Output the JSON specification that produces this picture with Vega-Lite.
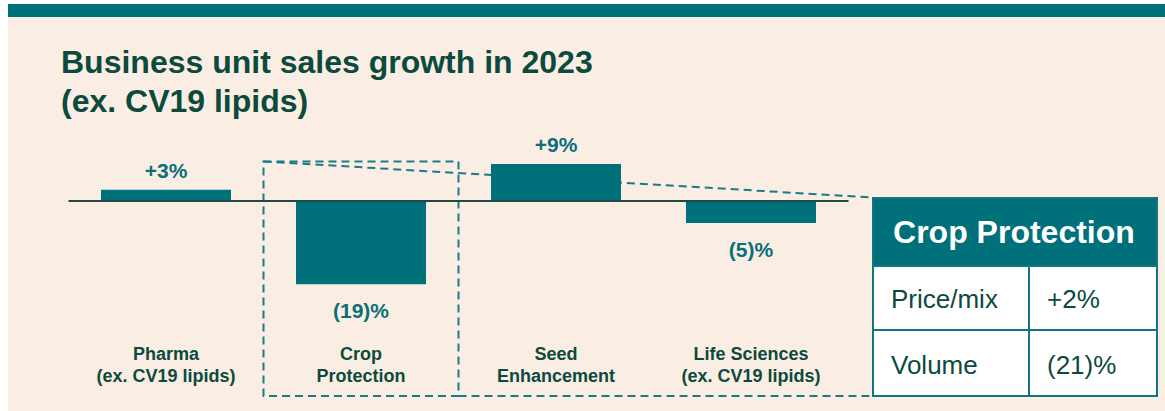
{
  "$schema": "https://vega.github.io/schema/vega-lite/v6.json",
  "width": 1165,
  "height": 411,
  "autosize": {"type": "fit", "contains": "padding"},
  "padding": 0,
  "background": "#ffffff",
  "config": {"view": {"stroke": null}, "font": "Liberation Sans", "text": {"font": "Liberation Sans"}},
  "datasets": {
    "units": [
      {"unit": "Pharma", "label": "Pharma\n(ex. CV19 lipids)", "growth": 2.6, "growth_label": "+3%"},
      {"unit": "Crop Protection", "label": "Crop\nProtection", "growth": -19.3, "growth_label": "(19)%"},
      {"unit": "Seed Enhancement", "label": "Seed\nEnhancement", "growth": 8.6, "growth_label": "+9%"},
      {"unit": "Life Sciences", "label": "Life Sciences\n(ex. CV19 lipids)", "growth": -5.1, "growth_label": "(5)%"}
    ],
    "crop_protection": [
      {"component": "Price/mix", "change": "+2%"},
      {"component": "Volume", "change": "(21)%"}
    ],
    "blank": [{}]
  },
  "layer": [
    {
      "data": {"name": "blank"},
      "layer": [
        {
          "mark": {"type": "rect", "color": "#faeee4"},
          "encoding": {
            "x": {"datum": 0.18975, "type": "quantitative", "axis": null, "scale": {"domain": [0.14872, 6.12308], "nice": false, "zero": false}},
            "x2": {"datum": 6.12308},
            "y": {"datum": 42.691, "type": "quantitative", "axis": null, "scale": {"domain": [-48.724, 46.636], "nice": false, "zero": false}},
            "y2": {"datum": -48.724}
          }
        },
        {
          "mark": {"type": "rect", "color": "#00717b"},
          "encoding": {
            "x": {"datum": 0.18975, "type": "quantitative", "axis": null, "scale": {"domain": [0.14872, 6.12308], "nice": false, "zero": false}},
            "x2": {"datum": 6.12308},
            "y": {"datum": 45.708, "type": "quantitative", "axis": null, "scale": {"domain": [-48.724, 46.636], "nice": false, "zero": false}},
            "y2": {"datum": 42.691}
          }
        },
        {
          "mark": {"type": "text", "align": "left", "baseline": "alphabetic", "fontSize": 32, "fontWeight": "bold", "color": "#0b4a3c", "lineHeight": 39},
          "encoding": {
            "x": {"datum": 0.46154, "type": "quantitative", "axis": null, "scale": {"domain": [0.14872, 6.12308], "nice": false, "zero": false}},
            "y": {"datum": 29.698, "type": "quantitative", "axis": null, "scale": {"domain": [-48.724, 46.636], "nice": false, "zero": false}},
            "text": {"value": ["Business unit sales growth in 2023", "(ex. CV19 lipids)"]}
          }
        },
        {
          "mark": {"type": "rect", "filled": false, "stroke": "#1a7b87", "strokeWidth": 2, "strokeDash": [8, 5]},
          "encoding": {
            "x": {"datum": 1.5, "type": "quantitative", "axis": null, "scale": {"domain": [0.14872, 6.12308], "nice": false, "zero": false}},
            "x2": {"datum": 2.5},
            "y": {"datum": 9.165, "type": "quantitative", "axis": null, "scale": {"domain": [-48.724, 46.636], "nice": false, "zero": false}},
            "y2": {"datum": -45.244}
          }
        },
        {
          "mark": {"type": "rule", "stroke": "#1a7b87", "strokeWidth": 2, "strokeDash": [8, 5]},
          "encoding": {
            "x": {"datum": 1.5, "type": "quantitative", "axis": null, "scale": {"domain": [0.14872, 6.12308], "nice": false, "zero": false}},
            "x2": {"datum": 4.62564},
            "y": {"datum": 9.165, "type": "quantitative", "axis": null, "scale": {"domain": [-48.724, 46.636], "nice": false, "zero": false}},
            "y2": {"datum": 0.812}
          }
        },
        {
          "mark": {"type": "rule", "stroke": "#1a7b87", "strokeWidth": 2, "strokeDash": [8, 5]},
          "encoding": {
            "x": {"datum": 2.5, "type": "quantitative", "axis": null, "scale": {"domain": [0.14872, 6.12308], "nice": false, "zero": false}},
            "x2": {"datum": 4.62564},
            "y": {"datum": -45.244, "type": "quantitative", "axis": null, "scale": {"domain": [-48.724, 46.636], "nice": false, "zero": false}},
            "y2": {"datum": -45.244}
          }
        }
      ]
    },
    {
      "data": {"name": "units"},
      "layer": [
        {
          "mark": {"type": "bar", "color": "#00707a", "width": {"band": 0.6667}},
          "encoding": {
            "x": {"field": "unit", "type": "nominal", "sort": null, "axis": null, "scale": {"type": "band", "domain": ["Pharma", "Crop Protection", "Seed Enhancement", "Life Sciences"], "paddingInner": 0, "paddingOuter": 0.9872, "align": 0.17792}},
            "y": {"field": "growth", "type": "quantitative", "axis": null, "scale": {"domain": [-48.724, 46.636], "nice": false, "zero": false}},
            "y2": {"datum": 0}
          }
        },
        {
          "transform": [{"filter": "datum.growth > 0"}],
          "mark": {"type": "text", "baseline": "alphabetic", "dy": -12, "fontSize": 21, "fontWeight": "bold", "color": "#0b6f79"},
          "encoding": {
            "x": {"field": "unit", "type": "nominal", "sort": null, "axis": null, "scale": {"type": "band", "domain": ["Pharma", "Crop Protection", "Seed Enhancement", "Life Sciences"], "paddingInner": 0, "paddingOuter": 0.9872, "align": 0.17792}},
            "y": {"field": "growth", "type": "quantitative", "axis": null, "scale": {"domain": [-48.724, 46.636], "nice": false, "zero": false}},
            "text": {"field": "growth_label"}
          }
        },
        {
          "transform": [{"filter": "datum.growth < 0"}],
          "mark": {"type": "text", "baseline": "top", "dy": 17, "fontSize": 21, "fontWeight": "bold", "color": "#0b6f79"},
          "encoding": {
            "x": {"field": "unit", "type": "nominal", "sort": null, "axis": null, "scale": {"type": "band", "domain": ["Pharma", "Crop Protection", "Seed Enhancement", "Life Sciences"], "paddingInner": 0, "paddingOuter": 0.9872, "align": 0.17792}},
            "y": {"field": "growth", "type": "quantitative", "axis": null, "scale": {"domain": [-48.724, 46.636], "nice": false, "zero": false}},
            "text": {"field": "growth_label"}
          }
        },
        {
          "mark": {"type": "text", "baseline": "alphabetic", "fontSize": 18, "fontWeight": "bold", "color": "#0b4a3c", "lineBreak": "\n", "lineHeight": 22},
          "encoding": {
            "x": {"field": "unit", "type": "nominal", "sort": null, "axis": null, "scale": {"type": "band", "domain": ["Pharma", "Crop Protection", "Seed Enhancement", "Life Sciences"], "paddingInner": 0, "paddingOuter": 0.9872, "align": 0.17792}},
            "y": {"datum": -36.891, "type": "quantitative", "axis": null, "scale": {"domain": [-48.724, 46.636], "nice": false, "zero": false}},
            "text": {"field": "label"}
          }
        }
      ]
    },
    {
      "data": {"name": "blank"},
      "layer": [
        {
          "mark": {"type": "rule", "stroke": "#1f4a41", "strokeWidth": 2},
          "encoding": {
            "x": {"datum": 0.5, "type": "quantitative", "axis": null, "scale": {"domain": [0.14872, 6.12308], "nice": false, "zero": false}},
            "x2": {"datum": 4.5},
            "y": {"datum": 0, "type": "quantitative", "axis": null, "scale": {"domain": [-48.724, 46.636], "nice": false, "zero": false}}
          }
        },
        {
          "mark": {"type": "rect", "fill": "#00707a", "stroke": "#137482", "strokeWidth": 2},
          "encoding": {
            "x": {"datum": 4.62564, "type": "quantitative", "axis": null, "scale": {"domain": [0.14872, 6.12308], "nice": false, "zero": false}},
            "x2": {"datum": 6.08205},
            "y": {"datum": 0.696, "type": "quantitative", "axis": null, "scale": {"domain": [-48.724, 46.636], "nice": false, "zero": false}},
            "y2": {"datum": -15.081}
          }
        },
        {
          "mark": {"type": "rect", "fill": "#ffffff", "stroke": "#137482", "strokeWidth": 2},
          "encoding": {
            "x": {"datum": 4.62564, "type": "quantitative", "axis": null, "scale": {"domain": [0.14872, 6.12308], "nice": false, "zero": false}},
            "x2": {"datum": 6.08205},
            "y": {"datum": -15.081, "type": "quantitative", "axis": null, "scale": {"domain": [-48.724, 46.636], "nice": false, "zero": false}},
            "y2": {"datum": -45.244}
          }
        },
        {
          "mark": {"type": "rule", "stroke": "#137482", "strokeWidth": 2},
          "encoding": {
            "x": {"datum": 4.62564, "type": "quantitative", "axis": null, "scale": {"domain": [0.14872, 6.12308], "nice": false, "zero": false}},
            "x2": {"datum": 6.08205},
            "y": {"datum": -29.93, "type": "quantitative", "axis": null, "scale": {"domain": [-48.724, 46.636], "nice": false, "zero": false}}
          }
        },
        {
          "mark": {"type": "rule", "stroke": "#137482", "strokeWidth": 2},
          "encoding": {
            "x": {"datum": 5.42564, "type": "quantitative", "axis": null, "scale": {"domain": [0.14872, 6.12308], "nice": false, "zero": false}},
            "y": {"datum": -15.081, "type": "quantitative", "axis": null, "scale": {"domain": [-48.724, 46.636], "nice": false, "zero": false}},
            "y2": {"datum": -45.244}
          }
        },
        {
          "data": {"name": "units"},
          "transform": [{"filter": "datum.unit == 'Crop Protection'"}],
          "mark": {"type": "text", "align": "left", "baseline": "alphabetic", "fontSize": 32, "fontWeight": "bold", "color": "#ffffff"},
          "encoding": {
            "x": {"datum": 4.72846, "type": "quantitative", "axis": null, "scale": {"domain": [0.14872, 6.12308], "nice": false, "zero": false}},
            "y": {"datum": -9.745, "type": "quantitative", "axis": null, "scale": {"domain": [-48.724, 46.636], "nice": false, "zero": false}},
            "text": {"field": "unit"}
          }
        },
        {
          "data": {"name": "crop_protection"},
          "transform": [{"filter": "datum.component == 'Price/mix'"}],
          "mark": {"type": "text", "align": "left", "baseline": "alphabetic", "fontSize": 26, "color": "#0b4a3c"},
          "encoding": {
            "x": {"datum": 4.7179, "type": "quantitative", "axis": null, "scale": {"domain": [0.14872, 6.12308], "nice": false, "zero": false}},
            "y": {"datum": -24.826, "type": "quantitative", "axis": null, "scale": {"domain": [-48.724, 46.636], "nice": false, "zero": false}},
            "text": {"field": "component"}
          }
        },
        {
          "data": {"name": "crop_protection"},
          "transform": [{"filter": "datum.component == 'Price/mix'"}],
          "mark": {"type": "text", "align": "left", "baseline": "alphabetic", "fontSize": 26, "color": "#0b4a3c"},
          "encoding": {
            "x": {"datum": 5.5179, "type": "quantitative", "axis": null, "scale": {"domain": [0.14872, 6.12308], "nice": false, "zero": false}},
            "y": {"datum": -24.826, "type": "quantitative", "axis": null, "scale": {"domain": [-48.724, 46.636], "nice": false, "zero": false}},
            "text": {"field": "change"}
          }
        },
        {
          "data": {"name": "crop_protection"},
          "transform": [{"filter": "datum.component == 'Volume'"}],
          "mark": {"type": "text", "align": "left", "baseline": "alphabetic", "fontSize": 26, "color": "#0b4a3c"},
          "encoding": {
            "x": {"datum": 4.7179, "type": "quantitative", "axis": null, "scale": {"domain": [0.14872, 6.12308], "nice": false, "zero": false}},
            "y": {"datum": -40.139, "type": "quantitative", "axis": null, "scale": {"domain": [-48.724, 46.636], "nice": false, "zero": false}},
            "text": {"field": "component"}
          }
        },
        {
          "data": {"name": "crop_protection"},
          "transform": [{"filter": "datum.component == 'Volume'"}],
          "mark": {"type": "text", "align": "left", "baseline": "alphabetic", "fontSize": 26, "color": "#0b4a3c"},
          "encoding": {
            "x": {"datum": 5.5179, "type": "quantitative", "axis": null, "scale": {"domain": [0.14872, 6.12308], "nice": false, "zero": false}},
            "y": {"datum": -40.139, "type": "quantitative", "axis": null, "scale": {"domain": [-48.724, 46.636], "nice": false, "zero": false}},
            "text": {"field": "change"}
          }
        }
      ]
    }
  ],
  "resolve": {"scale": {"x": "independent"}}
}
